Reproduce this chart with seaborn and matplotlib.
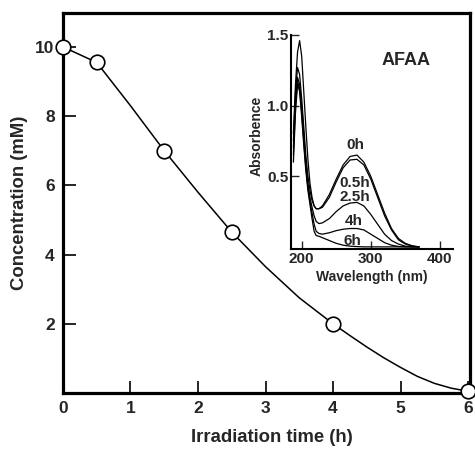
import numpy as np
import pandas as pd
import matplotlib
matplotlib.use("Agg")
import matplotlib.pyplot as plt
import seaborn as sns

# ---- data ----
time_pts = [0, 0.5, 1.5, 2.5, 4.0, 6.0]
conc_pts = [10.0, 9.55, 7.0, 4.65, 2.0, 0.05]

# smooth curve
curve_time = [0, 0.5, 1.0, 1.5, 2.0, 2.5, 3.0, 3.5, 4.0, 4.25, 4.5, 4.75, 5.0, 5.25, 5.5, 5.75, 6.0]
curve_conc = [10.0, 9.55, 8.3, 7.0, 5.8, 4.65, 3.65, 2.75, 2.0, 1.66, 1.33, 1.02, 0.74, 0.48,
              0.28, 0.14, 0.05]

wavelength = [188, 191, 194, 197, 200, 203, 206, 209, 212, 215, 218, 221, 225, 230,
              240, 250, 260, 270, 280, 290, 300, 310, 320, 330, 340, 350, 360, 370]
abs_0h = [0.80, 1.15, 1.38, 1.46, 1.35, 1.10, 0.85, 0.62, 0.45, 0.35, 0.29, 0.27, 0.27, 0.29,
          0.37, 0.48, 0.58, 0.64, 0.65, 0.60, 0.50, 0.37, 0.24, 0.13, 0.06, 0.025, 0.008, 0.0]
abs_05h = [0.75, 1.10, 1.27, 1.22, 1.05, 0.85, 0.65, 0.50, 0.40, 0.33, 0.29, 0.27, 0.27, 0.28,
           0.35, 0.46, 0.56, 0.615, 0.62, 0.58, 0.48, 0.35, 0.22, 0.12, 0.05, 0.02, 0.005, 0.0]
abs_25h = [0.70, 1.05, 1.20, 1.15, 1.00, 0.80, 0.60, 0.45, 0.35, 0.28, 0.22, 0.18, 0.165, 0.17,
           0.20, 0.25, 0.29, 0.31, 0.315, 0.29, 0.23, 0.16, 0.09, 0.045, 0.02, 0.005, 0.0, 0.0]
abs_4h = [0.65, 1.00, 1.17, 1.12, 0.95, 0.75, 0.56, 0.42, 0.32, 0.24, 0.16, 0.11, 0.095, 0.09,
          0.10, 0.115, 0.125, 0.13, 0.13, 0.12, 0.09, 0.06, 0.03, 0.012, 0.003, 0.0, 0.0, 0.0]
abs_6h = [0.60, 0.95, 1.15, 1.10, 0.92, 0.72, 0.54, 0.40, 0.30, 0.20, 0.11, 0.08, 0.075, 0.065,
          0.045, 0.025, 0.012, 0.005, 0.002, 0.0, 0.0, 0.0, 0.0, 0.0, 0.0, 0.0, 0.0, 0.0]
series_labels = ["0h", "0.5h", "2.5h", "4h", "6h"]
label_pos = [(277, 0.72), (277, 0.455), (277, 0.35), (275, 0.18), (274, 0.04)]

x_ticks = [0, 1, 2, 3, 4, 5, 6]
y_ticks = [2, 4, 6, 8, 10]
inset_xticks = [200, 300, 400]
inset_yticks = [0.5, 1.0, 1.5]

# ---- style ----
sns.set_theme(style="white")
plt.rcParams['font.family'] = ['Liberation Sans', 'DejaVu Sans']
plt.rcParams['font.weight'] = 'bold'

fig = plt.figure(figsize=(4.75, 4.51), dpi=100)
ax = fig.add_axes([0.1326, 0.1286, 0.857, 0.8426])

sns.lineplot(x=curve_time, y=curve_conc, ax=ax, color="black", linewidth=1.1,
             estimator=None, sort=False)
sns.scatterplot(x=time_pts, y=conc_pts, ax=ax, s=110, facecolor="white",
                edgecolor="black", linewidth=1.2, zorder=5, clip_on=False)

ax.set_xlim(0, 6.03)
ax.set_ylim(0, 10.98)
ax.set_xticks(x_ticks)
ax.set_yticks(y_ticks)
ax.set_xticklabels([str(t) for t in x_ticks], fontsize=12.5, fontweight="bold")
ax.set_yticklabels([str(t) for t in y_ticks], fontsize=12.5, fontweight="bold")
ax.tick_params(direction="in", length=9, width=1.2, color="black", pad=6, bottom=True, left=True)
for sp in ax.spines.values():
    sp.set_linewidth(2.3)
    sp.set_color("black")
ax.set_xlabel("Irradiation time (h)", fontsize=13.3, fontweight="bold")
ax.xaxis.set_label_coords(0.513, -0.095)
ax.set_ylabel("Concentration (mM)", fontsize=13.3, fontweight="bold", labelpad=5)

# ---- inset ----
ins = fig.add_axes([0.6126, 0.4479, 0.341, 0.4745])
ins.patch.set_alpha(0)
df = pd.DataFrame({"wl": wavelength * 5,
                   "abs": abs_0h + abs_05h + abs_25h + abs_4h + abs_6h,
                   "t": sum([[s] * len(wavelength) for s in series_labels], [])})
sns.lineplot(data=df, x="wl", y="abs", units="t", estimator=None, ax=ins,
             color="black", linewidth=0.9)
for lab, (lx, ly) in zip(series_labels, label_pos):
    ins.text(lx, ly, lab, fontsize=11, fontweight="bold", ha="center", va="center")
ins.text(351, 1.32, "AFAA", fontsize=13, fontweight="bold", ha="center", va="center")
ins.set_xlim(184.5, 419)
ins.set_ylim(-0.015, 1.5)
ins.set_xticks(inset_xticks)
ins.set_yticks(inset_yticks)
ins.set_xticklabels([str(v) for v in inset_xticks], fontsize=11, fontweight="bold")
ins.set_yticklabels([str(v) for v in inset_yticks], fontsize=11, fontweight="bold")
ins.tick_params(direction="in", length=6, width=1.0, pad=2, bottom=True, left=True)
ins.spines["top"].set_visible(False)
ins.spines["right"].set_visible(False)
for s in ["left", "bottom"]:
    ins.spines[s].set_linewidth(1.5)
    ins.spines[s].set_color("black")
ins.set_xlabel("Wavelength (nm)", fontsize=10, fontweight="bold", labelpad=3)
ins.set_ylabel("Absorbence", fontsize=10, fontweight="bold", labelpad=1)
ins.yaxis.set_label_coords(-0.17, 0.53)

fig.savefig("out.png", dpi=100)
